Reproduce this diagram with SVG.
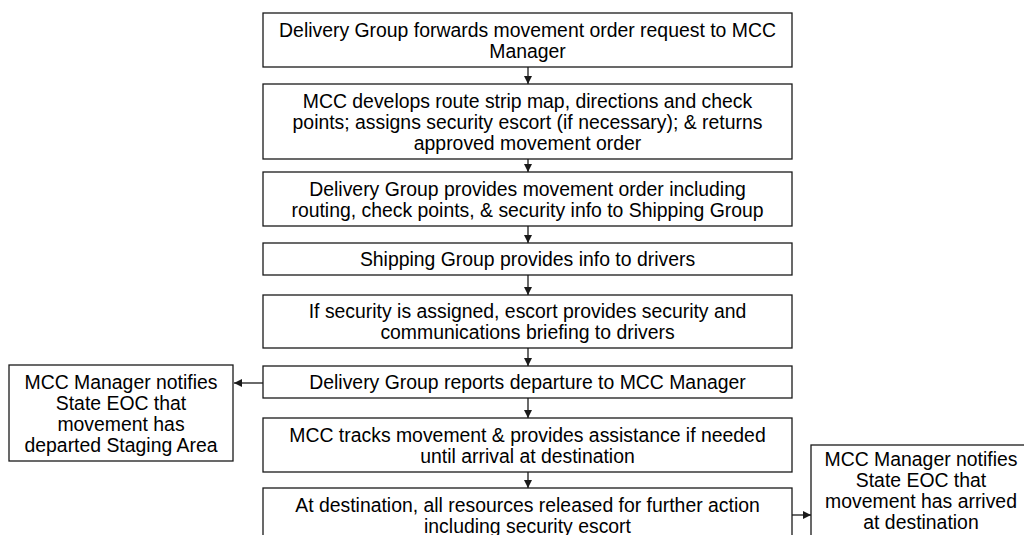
<svg xmlns="http://www.w3.org/2000/svg" width="1024" height="535" viewBox="0 0 1024 535">
<style>
.box{fill:#fff;stroke:#1a1a1a;stroke-width:1.3}
.t{font-family:"Liberation Sans",Arial,sans-serif;font-size:19.4px;fill:#000;text-anchor:middle}
.c{fill:none;stroke:#1a1a1a;stroke-width:1.3}
</style>
<defs>
<marker id="ah" viewBox="0 0 10 10" refX="10" refY="5" markerWidth="8" markerHeight="8" markerUnits="userSpaceOnUse" orient="auto">
<path d="M0,0 L10,5 L0,10 z" fill="#1a1a1a"/>
</marker>
</defs>
<rect width="1024" height="535" fill="#fff"/>
<g id="n1"><rect class="box" x="263" y="13" width="529" height="54"/>
<text class="t" x="527.5" y="37">Delivery Group forwards movement order request to MCC</text>
<text class="t" x="527.5" y="58">Manager</text></g>
<g id="n2"><rect class="box" x="263" y="84" width="529" height="75"/>
<text class="t" x="527.5" y="107.5">MCC develops route strip map, directions and check</text>
<text class="t" x="527.5" y="128.5">points; assigns security escort (if necessary); &amp; returns</text>
<text class="t" x="527.5" y="149.5">approved movement order</text></g>
<g id="n3"><rect class="box" x="263" y="172" width="529" height="54"/>
<text class="t" x="527.5" y="195.5">Delivery Group provides movement order including</text>
<text class="t" x="527.5" y="216.5">routing, check points, &amp; security info to Shipping Group</text></g>
<g id="n4"><rect class="box" x="263" y="243" width="529" height="32"/>
<text class="t" x="527.5" y="266">Shipping Group provides info to drivers</text></g>
<g id="n5"><rect class="box" x="263" y="295" width="529" height="53"/>
<text class="t" x="527.5" y="318">If security is assigned, escort provides security and</text>
<text class="t" x="527.5" y="339">communications briefing to drivers</text></g>
<g id="n6"><rect class="box" x="263" y="366" width="529" height="32"/>
<text class="t" x="527.5" y="389">Delivery Group reports departure to MCC Manager</text></g>
<g id="n7"><rect class="box" x="263" y="418" width="529" height="54"/>
<text class="t" x="527.5" y="441.5">MCC tracks movement &amp; provides assistance if needed</text>
<text class="t" x="527.5" y="462.5">until arrival at destination</text></g>
<g id="n8"><rect class="box" x="263" y="488" width="529" height="56"/>
<text class="t" x="527.5" y="512">At destination, all resources released for further action</text>
<text class="t" x="527.5" y="533">including security escort</text></g>
<g id="n9"><rect class="box" x="9" y="365" width="224" height="96"/>
<text class="t" x="121" y="388.5">MCC Manager notifies</text>
<text class="t" x="121" y="409.5">State EOC that</text>
<text class="t" x="121" y="430.5">movement has</text>
<text class="t" x="121" y="451.5">departed Staging Area</text></g>
<g id="n10"><rect class="box" x="811" y="445" width="220" height="100"/>
<text class="t" x="921" y="466">MCC Manager notifies</text>
<text class="t" x="921" y="487">State EOC that</text>
<text class="t" x="921" y="508">movement has arrived</text>
<text class="t" x="921" y="529">at destination</text></g>
<g id="connectors">
<line class="c" x1="528" y1="67" x2="528" y2="84" marker-end="url(#ah)"/>
<line class="c" x1="528" y1="159" x2="528" y2="172" marker-end="url(#ah)"/>
<line class="c" x1="528" y1="226" x2="528" y2="243" marker-end="url(#ah)"/>
<line class="c" x1="528" y1="275" x2="528" y2="295" marker-end="url(#ah)"/>
<line class="c" x1="528" y1="348" x2="528" y2="366" marker-end="url(#ah)"/>
<line class="c" x1="528" y1="398" x2="528" y2="418" marker-end="url(#ah)"/>
<line class="c" x1="528" y1="472" x2="528" y2="488" marker-end="url(#ah)"/>
<line class="c" x1="263" y1="383" x2="234" y2="383" marker-end="url(#ah)"/>
<line class="c" x1="792" y1="515" x2="811" y2="515" marker-end="url(#ah)"/>
</g>
</svg>
